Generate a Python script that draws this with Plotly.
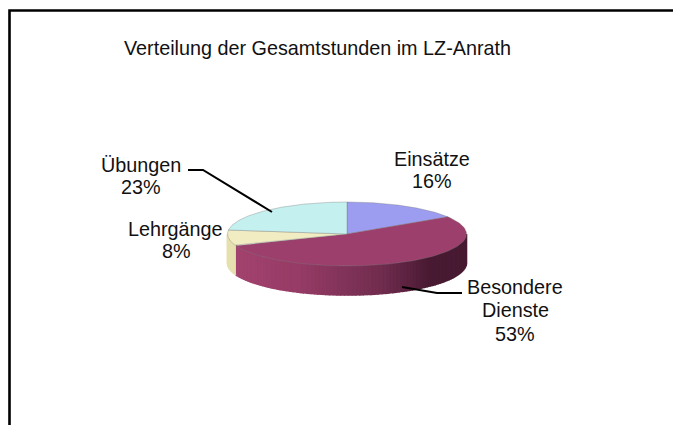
import numpy as np
import plotly.graph_objects as go

categories = ["Einsätze", "Besondere Dienste", "Lehrgänge", "Übungen"]
shares = [16, 53, 8, 23]
top_colors = ["#9c9cf0", "#9d3f6c", "#f1ecc2", "#c4f0ef"]
title_text = "Verteilung der Gesamtstunden im LZ-Anrath"

W, H = 673, 425
CX, CY, RX, RY, DEPTH = 347, 234, 119.5, 32, 29
FONT = "Liberation Sans"

def pt(frac, dy=0):
    a = 2 * np.pi * np.asarray(frac)
    return CX + RX * np.sin(a), CY - RY * np.cos(a) + dy

fig = go.Figure()

def poly(xs, ys, fill, line=None, width=0):
    fig.add_trace(go.Scatter(x=list(xs), y=list(ys), mode="lines", fill="toself",
                             fillcolor=fill, hoverinfo="skip", showlegend=False,
                             line=dict(color=line or fill, width=width)))

bounds = np.cumsum([0] + shares) / sum(shares)

def shade(t):
    c0 = np.array([165, 68, 112]); c1 = np.array([150, 60, 102])
    c2 = np.array([112, 44, 78]); c3 = np.array([72, 26, 50])
    if t < .3:
        c = c0 + (c1 - c0) * t / .3
    elif t < .65:
        c = c1 + (c2 - c1) * (t - .3) / .35
    else:
        c = c2 + (c3 - c2) * min(1, (t - .65) / .2)
    return "rgb(%d,%d,%d)" % tuple(c)

for i in range(len(shares)):
    lo, hi = max(bounds[i], .25), min(bounds[i + 1], .75)
    if hi <= lo:
        continue
    n = max(2, int((hi - lo) * 200))
    edges = np.linspace(lo, hi, n + 1)
    for a, b in zip(edges[:-1], edges[1:]):
        seg = np.linspace(a, b, 3)
        x, y0 = pt(seg)
        _, y1 = pt(seg, DEPTH)
        if i == 1:
            col = shade((x.mean() - (CX - RX)) / (2 * RX))
        else:
            col = "#e6e0b0" if i == 2 else top_colors[i]
        poly(np.r_[x, x[::-1]], np.r_[y0, y1[::-1]], col, width=1.6)

for i, col in enumerate(top_colors):
    x, y = pt(np.linspace(bounds[i], bounds[i + 1], 120))
    poly(np.r_[CX, x, CX], np.r_[CY, y, CY], col, "rgba(120,120,120,0.45)", 0.8)

def leader(xs, ys, width=2):
    fig.add_trace(go.Scatter(x=xs, y=ys, mode="lines", hoverinfo="skip", showlegend=False,
                             line=dict(color="#000000", width=width)))

leader_uebungen_x, leader_uebungen_y = [188, 203, 272], [170, 170, 212]
leader_dienste_x, leader_dienste_y = [402, 437, 462], [287, 293, 293]
leader(leader_uebungen_x, leader_uebungen_y)
leader(leader_dienste_x, leader_dienste_y)

leader([9.5, 9.5, 673], [425, 10.5, 10.5], width=2.6)

texts = [
    (title_text, 317.5, 48),
    ("Einsätze", 432, 159), (f"{shares[0]}%", 432, 181),
    ("Besondere", 515, 287), ("Dienste", 515, 310), (f"{shares[1]}%", 515, 334),
    ("Lehrgänge", 175, 229), (f"{shares[2]}%", 176, 251),
    ("Übungen", 141, 165), (f"{shares[3]}%", 141, 187),
]
for t, x, y in texts:
    fig.add_annotation(x=x, y=y, text=t, showarrow=False, xanchor="center", yanchor="middle",
                       font=dict(family=FONT, size=19.8, color="#111111"))

fig.update_xaxes(range=[0, W], visible=False, fixedrange=True)
fig.update_yaxes(range=[H, 0], visible=False, fixedrange=True)
fig.update_layout(width=W, height=H, margin=dict(l=0, r=0, t=0, b=0),
                  paper_bgcolor="white", plot_bgcolor="white", showlegend=False)
fig.write_html("out.html", config={"displayModeBar": False},
               post_script="document.body.style.margin='0';document.body.style.overflow='hidden';")
